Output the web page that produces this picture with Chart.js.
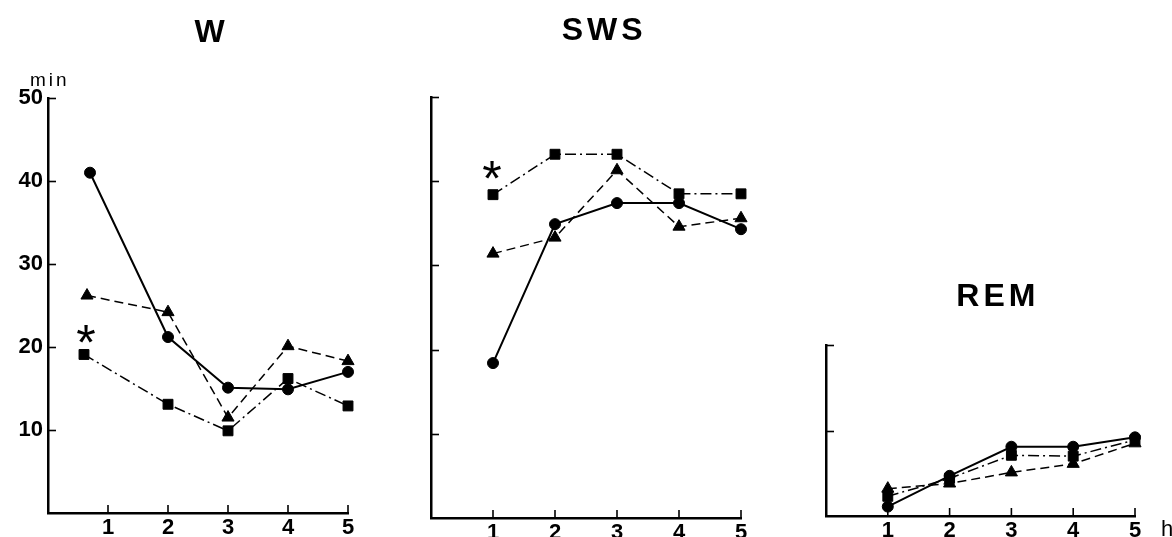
<!DOCTYPE html>
<html><head><meta charset="utf-8">
<script src="https://cdn.jsdelivr.net/npm/chart.js@4.4.1/dist/chart.umd.min.js"></script>
<style>
html,body{margin:0;padding:0;background:#fff;width:1172px;height:537px;overflow:hidden;}
canvas{position:absolute;top:0;}
</style></head><body>
<canvas id="cW" width="390" height="537" style="left:0px"></canvas>
<canvas id="cS" width="384" height="537" style="left:400px"></canvas>
<canvas id="cR" width="388" height="537" style="left:784px"></canvas>
<script>
// ---- text ----
const panelTitles = ['W', 'SWS', 'REM'];
const xTickLabels = ['1', '2', '3', '4', '5'];
const yTickLabelsW = ['10', '20', '30', '40', '50'];
const yUnit = 'min';
const xUnit = 'h';
const starMark = '*';

// ---- data (hours, minutes) ----
const hours = [1, 2, 3, 4, 5];
// W panel: first hour points are plotted slightly left of tick 1
const wHoursCircle   = [0.70, 2, 3, 4, 5];
const wHoursTriangle = [0.65, 2, 3, 4, 5];
const wHoursSquare   = [0.60, 2, 3, 4, 5];
const wCircle   = [41.0, 21.2, 15.1, 14.9, 17.0];
const wTriangle = [26.2, 24.2, 11.5, 20.1, 18.3];
const wSquare   = [19.1, 13.1, 9.9, 16.2, 12.9];
// SWS panel
const swsCircle   = [18.4, 34.9, 37.4, 37.4, 34.3];
const swsTriangle = [31.4, 33.3, 41.3, 34.6, 35.6];
const swsSquare   = [38.4, 43.2, 43.2, 38.5, 38.5];
// REM panel
const remCircle   = [1.1, 4.7, 8.1, 8.1, 9.2];
const remTriangle = [3.2, 3.8, 5.1, 6.1, 8.5];
const remSquare   = [2.3, 4.4, 7.1, 7.0, 8.9];

const pts = (xs, ys) => xs.map((x, i) => ({x: x, y: ys[i]}));

// inward tick marks drawn from the scales' own ticks
const inwardTicks = {
  id: 'inwardTicks',
  afterDatasetsDraw(chart, args, opts) {
    const ctx = chart.ctx, xs = chart.scales.x, ys = chart.scales.y;
    const len = opts.len || 7;
    ctx.save();
    ctx.strokeStyle = '#000';
    ctx.lineWidth = 1.6;
    ys.ticks.forEach(t => {
      if (t.value === 0) return;
      const py = Math.round(ys.getPixelForValue(t.value)) + 0.5;
      ctx.beginPath(); ctx.moveTo(xs.left, py); ctx.lineTo(xs.left + len, py); ctx.stroke();
    });
    xs.ticks.forEach(t => {
      if (t.value === 0) return;
      const px = xs.getPixelForValue(t.value);
      ctx.beginPath(); ctx.moveTo(px, ys.bottom); ctx.lineTo(px, ys.bottom - len); ctx.stroke();
    });
    ctx.restore();
  }
};

// text annotations (titles, units, significance stars)
const annotate = {
  id: 'annotate',
  afterDraw(chart, args, opts) {
    const ctx = chart.ctx;
    (opts.items || []).forEach(it => {
      ctx.save();
      ctx.font = it.font;
      ctx.fillStyle = '#000';
      if ('letterSpacing' in ctx) ctx.letterSpacing = (it.ls || 0) + 'px';
      let px = it.x, py = it.y;
      if (it.data) {
        px = chart.scales.x.getPixelForValue(it.x);
        py = chart.scales.y.getPixelForValue(it.y);
      }
      ctx.textAlign = 'left';
      ctx.textBaseline = 'alphabetic';
      const m = ctx.measureText(it.text);
      const w = m.actualBoundingBoxLeft + m.actualBoundingBoxRight - (it.ls || 0);
      const h = m.actualBoundingBoxAscent + m.actualBoundingBoxDescent;
      const lx = it.align === 'left' ? px + m.actualBoundingBoxLeft : px - w / 2 + m.actualBoundingBoxLeft;
      const by = py + h / 2 - m.actualBoundingBoxDescent;
      ctx.fillText(it.text, lx, by);
      ctx.restore();
    });
  }
};

const FONT = '"Liberation Sans", Arial, sans-serif';
const titleFont = 'bold 32px ' + FONT;

function makeChart(id, cfg) {
  return new Chart(document.getElementById(id), {
    type: 'line',
    data: {
      datasets: [
        {data: cfg.circle, borderColor: '#000', borderWidth: 2, pointStyle: 'circle', pointRadius: 5.5,
         pointBackgroundColor: '#000', pointBorderColor: '#000', pointBorderWidth: 1, clip: false},
        {data: cfg.triangle, borderColor: '#000', borderWidth: 1.5, borderDash: [9, 5], pointStyle: 'triangle', pointRadius: 7,
         pointBackgroundColor: '#000', pointBorderColor: '#000', pointBorderWidth: 1, clip: false},
        {data: cfg.square, borderColor: '#000', borderWidth: 1.5, borderDash: [11, 4, 2, 4], pointStyle: 'rect', pointRadius: 7,
         pointBackgroundColor: '#000', pointBorderColor: '#000', pointBorderWidth: 1, clip: false}
      ]
    },
    options: {
      responsive: false,
      animation: false,
      events: [],
      layout: {padding: {top: cfg.top, right: cfg.right, left: 0, bottom: 0}},
      plugins: {
        legend: {display: false},
        tooltip: {enabled: false},
        title: {display: false},
        annotate: {items: cfg.items},
        inwardTicks: {len: 8}
      },
      scales: {
        x: {
          type: 'linear', min: 0, max: 5,
          ticks: {stepSize: 1, autoSkip: false, maxRotation: 0, padding: cfg.xpad, color: '#000',
                  font: {family: FONT, size: 22, weight: 'bold', lineHeight: 1.0},
                  callback: v => (v === 0 ? '' : xTickLabels[v - 1])},
          grid: {display: false, drawTicks: false},
          border: {display: true, color: '#000', width: 2.5},
          afterFit: s => { s.height = cfg.xh; }
        },
        y: {
          type: 'linear', min: 0, max: cfg.ymax,
          ticks: {stepSize: 10, display: cfg.ylabels, padding: 5, color: '#000',
                  font: {family: FONT, size: 22, weight: 'bold'},
                  callback: v => (v === 0 ? '' : yTickLabelsW[v / 10 - 1])},
          grid: {display: false, drawTicks: false},
          border: {display: true, color: '#000', width: 2.5},
          afterFit: s => { s.width = cfg.yw; }
        }
      }
    },
    plugins: [inwardTicks, annotate]
  });
}

makeChart('cW', {
  circle: pts(wHoursCircle, wCircle), triangle: pts(wHoursTriangle, wTriangle), square: pts(wHoursSquare, wSquare),
  top: 98, right: 42, yw: 48, xh: 24, xpad: 4, ymax: 50, ylabels: true,
  items: [
    {text: panelTitles[0], x: 208, y: 31, font: titleFont, ls: 4},
    {text: yUnit, x: 47, y: 79, font: '19px ' + FONT, ls: 3},
    {text: starMark, data: true, x: 0.63, y: 21.6, font: '50px ' + FONT}
  ]
});
makeChart('cS', {
  circle: pts(hours, swsCircle), triangle: pts(hours, swsTriangle), square: pts(hours, swsSquare),
  top: 97, right: 43, yw: 31, xh: 19, xpad: 4, ymax: 50, ylabels: false,
  items: [
    {text: panelTitles[1], x: 600 - 400, y: 29, font: titleFont, ls: 4},
    {text: starMark, data: true, x: 0.98, y: 41.3, font: '50px ' + FONT}
  ]
});
makeChart('cR', {
  circle: pts(hours, remCircle), triangle: pts(hours, remTriangle), square: pts(hours, remSquare),
  top: 345, right: 37, yw: 42, xh: 21, xpad: 4, ymax: 20, ylabels: false,
  items: [
    {text: panelTitles[2], x: 210, y: 295, font: titleFont, ls: 4},
    {text: xUnit, x: 378, y: 528, font: '22px ' + FONT, align: 'left'}
  ]
});
</script>
</body></html>
